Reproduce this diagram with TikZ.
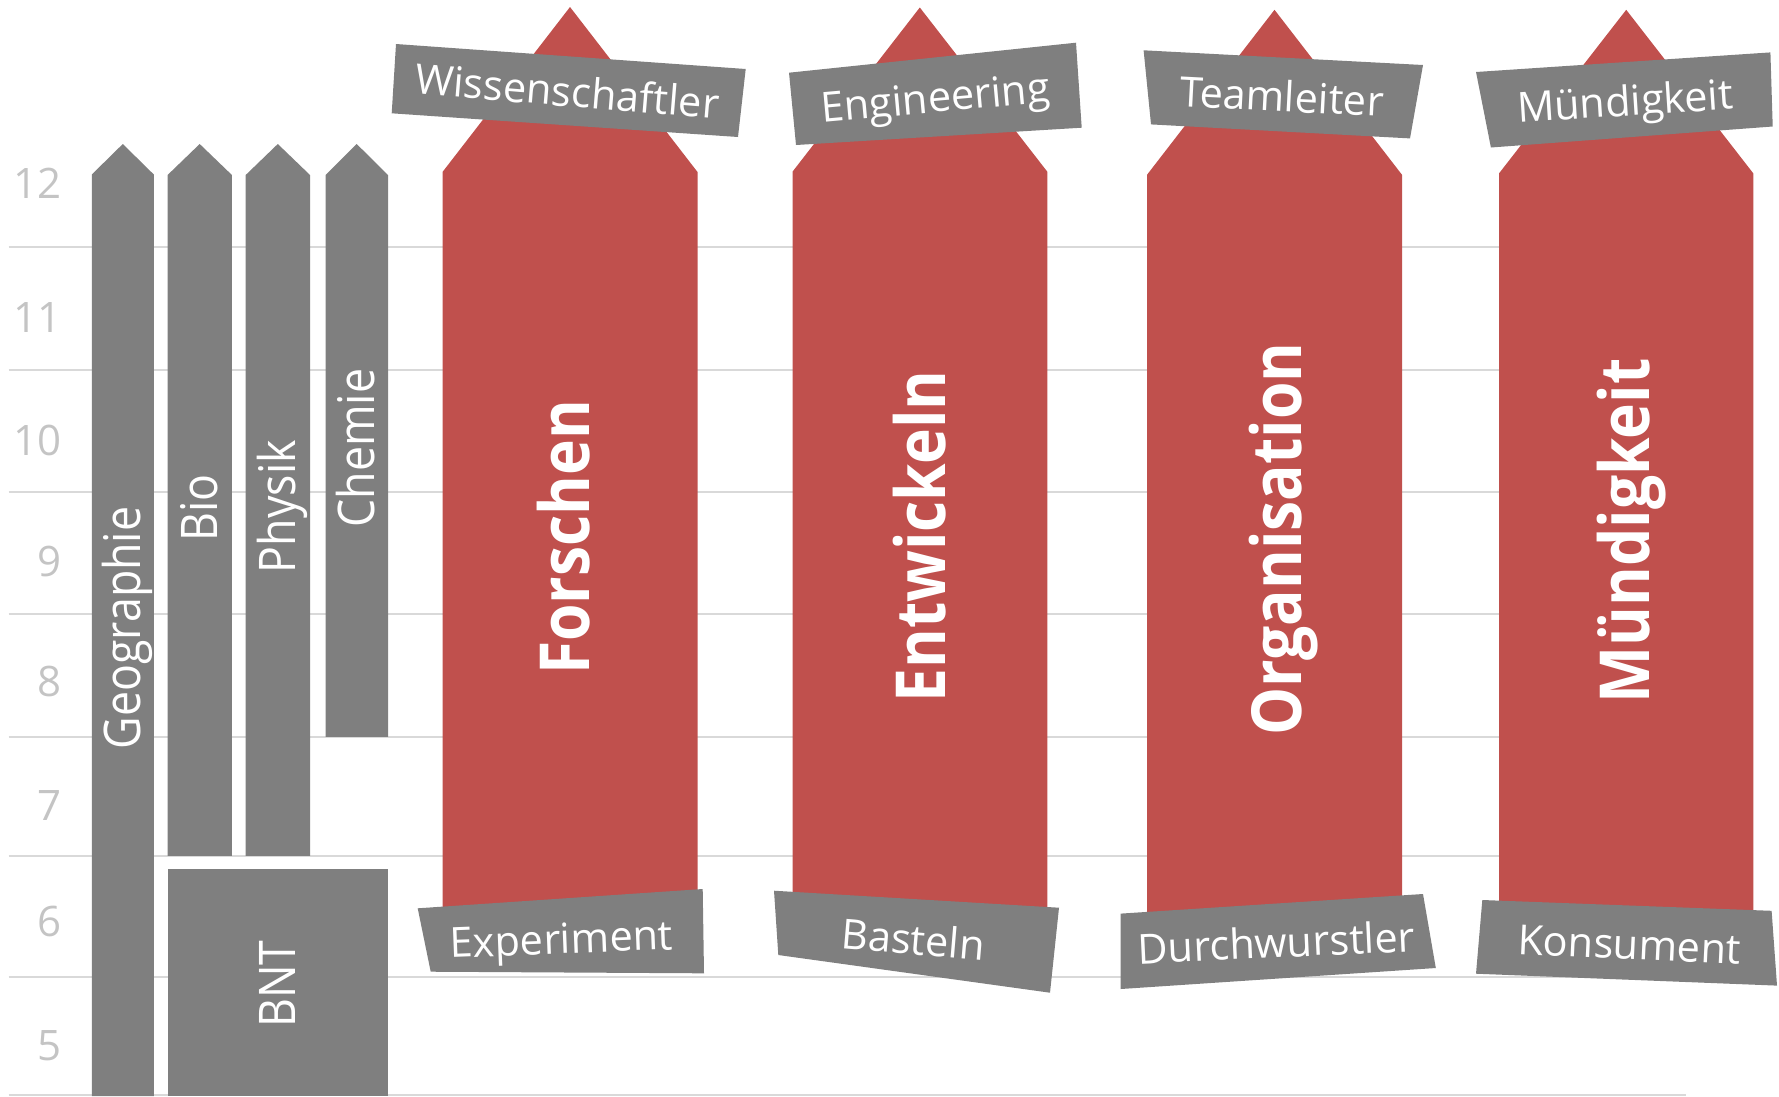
\documentclass[tikz,border=0pt]{standalone}
\usepackage{fontspec}
\setmainfont{Open Sans}
\usepackage{graphicx}
\definecolor{redc}{HTML}{C0504D}
\definecolor{grayc}{HTML}{7F7F7F}
\definecolor{gridc}{HTML}{D9D9D9}
\definecolor{axisc}{HTML}{C4C4C4}
\tikzset{
  gridline/.style={draw=gridc, line width=2pt},
  graycol/.style={fill=grayc},
  redarrow/.style={fill=redc},
  labbox/.style={fill=grayc},
  labtxt/.style={text=white, font=\fontsize{41.5}{48}\selectfont, anchor=base, inner sep=0pt},
  coltxt/.style={text=white, font=\fontsize{50.5}{60}\selectfont, anchor=base, rotate=90, inner sep=0pt},
  bigtxt/.style={text=white, font=\bfseries\fontsize{69}{80}\selectfont, anchor=base, rotate=90, inner sep=0pt},
  axtxt/.style={text=axisc, font=\fontsize{42}{50}\selectfont, anchor=east, inner sep=0pt}
}
\newcommand{\cnd}[1]{\scalebox{0.885}[1]{#1}}
\newcommand{\cnb}[1]{\scalebox{0.878}[1]{#1}}
\begin{document}
\begin{tikzpicture}[x=1pt,y=-1pt]
\useasboundingbox (0,0) rectangle (1779,1096);
% grid lines
\foreach \yy in {247,370,492,614,736.5,856,976.5}{
  \draw[gridline] (8.6,\yy) -- (1753,\yy);
}
\draw[gridline] (8.6,1095) -- (1686,1095);
% axis labels
\node[axtxt] (l12) at (62,183) {12};
\node[axtxt] (l11) at (62,317) {11};
\node[axtxt] (l10) at (62,440) {10};
\node[axtxt] (l9) at (62,561) {9};
\node[axtxt] (l8) at (62,681) {8};
\node[axtxt] (l7) at (62,805) {7};
\node[axtxt] (l6) at (62,921) {6};
\node[axtxt] (l5) at (62,1046) {5};
% gray columns
\fill[graycol] (91.8,1096) -- (91.8,174.5) -- (122.8,144) -- (153.8,174.5) -- (153.8,1096) -- cycle;
\fill[graycol] (167.6,855.8) -- (167.6,175) -- (199.7,144) -- (231.9,175) -- (231.9,855.8) -- cycle;
\fill[graycol] (245.7,855.8) -- (245.7,175) -- (277.8,144) -- (310,175) -- (310,855.8) -- cycle;
\fill[graycol] (325.5,736.8) -- (325.5,175) -- (356.7,144) -- (388,175) -- (388,736.8) -- cycle;
\fill[graycol] (167.6,869) rectangle (388,1096);
\node[coltxt] (geo) at (140.8,628) {\cnd{Geographie}};
\node[coltxt] (bio) at (217.7,507.8) {\cnd{Bio}};
\node[coltxt] (phy) at (295.8,506.7) {\cnd{Physik}};
\node[coltxt] (che) at (374.7,448) {\cnd{Chemie}};
\node[coltxt] (bnt) at (295.8,984) {\cnd{BNT}};
% red arrows
\fill[redarrow] (442.5,930) -- (442.5,172) -- (570,7) -- (697.5,172) -- (697.5,930) -- cycle;
\fill[redarrow] (792.5,930) -- (792.5,171.7) -- (919.8,7.5) -- (1047.3,171.7) -- (1047.3,930) -- cycle;
\fill[redarrow] (1147,930) -- (1147,174.8) -- (1274.5,9.8) -- (1402,174.8) -- (1402,930) -- cycle;
\fill[redarrow] (1499,930) -- (1499,173.4) -- (1626.2,9.8) -- (1753.3,173.4) -- (1753.3,930) -- cycle;
\node[bigtxt] (forschen) at (589.5,537.5) {\cnb{Forschen}};
\node[bigtxt] (entw) at (945,536.5) {\cnb{Entwickeln}};
\node[bigtxt] (orga) at (1301,539) {\cnb{Organisation}};
\node[bigtxt] (muend) at (1649,531) {\cnb{Mündigkeit}};
% top labels
\fill[labbox] (396,44) -- (745.7,69) -- (738,137) -- (391.7,113.3) -- cycle;
\node[labtxt, rotate=-4.7] (wiss) at (566,106.3) {Wissenschaftler};
\fill[labbox] (789,72.7) -- (1076,42.7) -- (1081.7,127.7) -- (796,145) -- cycle;
\node[labtxt, rotate=5.2] (eng) at (936.5,112.3) {Engineering};
\fill[labbox] (1143.6,50.3) -- (1423,65) -- (1410,138.4) -- (1151,124.4) -- cycle;
\node[labtxt, rotate=-3] (team) at (1281,111.5) {Teamleiter};
\fill[labbox] (1476,72) -- (1770.4,52.4) -- (1772.7,126.5) -- (1490.9,147.5) -- cycle;
\node[labtxt, rotate=3.7] (muendl) at (1626,116) {Mündigkeit};
% bottom labels
\fill[labbox] (417.7,908.3) -- (702.7,889) -- (704,973.3) -- (430.7,971.7) -- cycle;
\node[labtxt, rotate=2.2] (exp) at (562,953.7) {Experiment};
\fill[labbox] (774,890.7) -- (1059,907.7) -- (1050,992.7) -- (778.3,955) -- cycle;
\node[labtxt, rotate=-4.8] (bast) at (912,954.3) {Basteln};
\fill[labbox] (1120.7,913.6) -- (1423,894) -- (1435.8,968) -- (1120.7,989) -- cycle;
\node[labtxt, rotate=2.65] (durch) at (1277,957.6) {Durchwurstler};
\fill[labbox] (1482.3,900) -- (1771.6,910.8) -- (1777,985.6) -- (1476,973.7) -- cycle;
\node[labtxt, rotate=-2.7] (kons) at (1628.6,959.4) {Konsument};
\end{tikzpicture}
\end{document}
